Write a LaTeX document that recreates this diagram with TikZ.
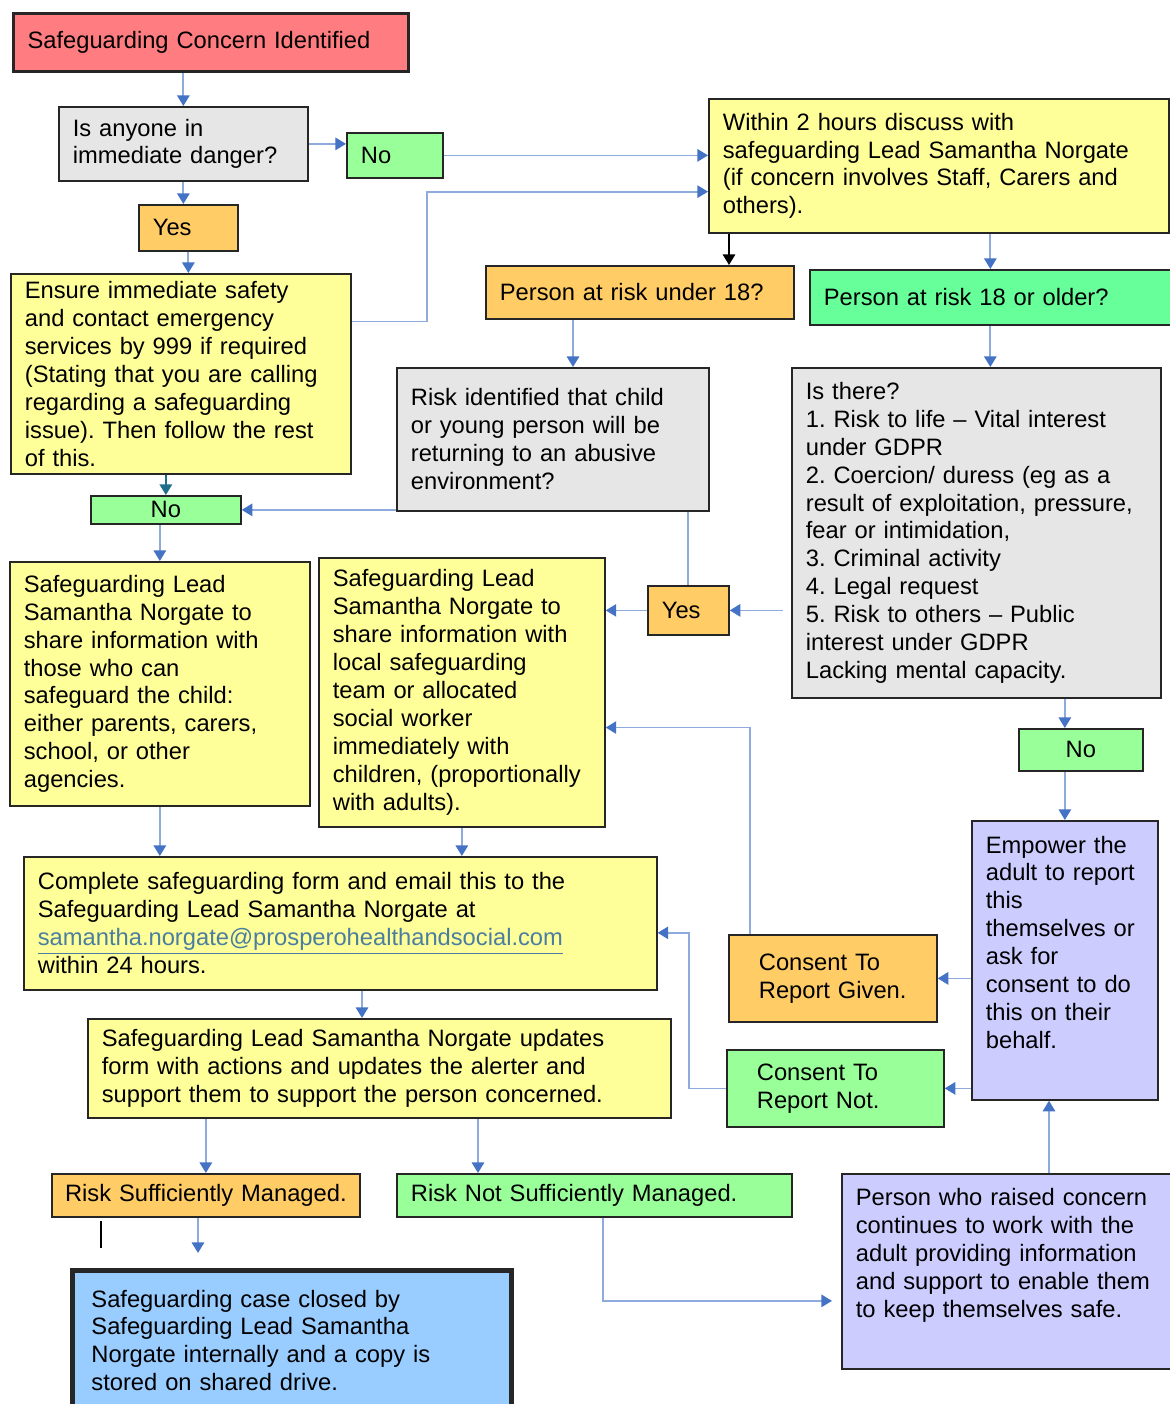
\documentclass[tikz,border=0pt]{standalone}
\usepackage{fontspec}
\setmainfont{Liberation Sans}
\usepackage{xcolor}
\usepackage{tikz}
\usetikzlibrary{positioning,calc,arrows.meta}
\definecolor{alertred}{HTML}{FF7C80}
\definecolor{askgrey}{HTML}{E6E6E6}
\definecolor{nogreen}{HTML}{99FF99}
\definecolor{adultgreen}{HTML}{66FF99}
\definecolor{yesorange}{HTML}{FFCC66}
\definecolor{noteyellow}{HTML}{FFFF99}
\definecolor{empowerlav}{HTML}{CCCCFF}
\definecolor{closedblue}{HTML}{99CCFF}
\definecolor{linkblue}{HTML}{8FAADC}
\definecolor{tipblue}{HTML}{4472C4}
\definecolor{tealline}{HTML}{1F6F8B}
\definecolor{mailblue}{HTML}{4A7EA0}
\frenchspacing

\begin{document}
\begin{tikzpicture}[x=0.02cm, y=-0.02cm,
  box/.style={draw=black!85, line width=1pt, anchor=north west, align=left,
    inner xsep=0.28cm, inner ysep=0.05cm, font=\fontsize{13.5}{15.9}\selectfont},
  link/.style={draw=linkblue, line width=1pt, -{Triangle[length=6pt, width=7pt, color=tipblue]}}]
  \useasboundingbox (0,0) rectangle (1170,1404);

  % Start and first question
  \node[box, fill=alertred, line width=1.8pt, text width=7.34cm, minimum height=1.16cm] (concern) at (12,12) {Safeguarding Concern Identified};
  \node[box, fill=askgrey, text width=4.42cm, minimum height=1.48cm] (danger) at (58,106) {Is anyone in\\immediate danger?};
  \node[box, fill=nogreen, text width=1.36cm, minimum height=0.9cm] (noA) at (346,132) {No};
  \node[box, fill=yesorange, text width=1.42cm, minimum height=0.92cm] (yesA) at (138,204) {Yes};
  \node[box, fill=noteyellow, text width=6.24cm, minimum height=4cm] (ensure) at (10,273) {Ensure immediate safety\\and contact emergency\\services by 999 if required\\(Stating that you are calling\\regarding a safeguarding\\issue). Then follow the rest\\of this.};
  \node[box, fill=noteyellow, text width=8.64cm, minimum height=2.68cm] (within) at (708,98) {Within 2 hours discuss with\\safeguarding Lead Samantha Norgate\\(if concern involves Staff, Carers and\\others).};

  % Age split
  \node[box, fill=yesorange, text width=5.6cm, minimum height=1.06cm] (under18) at (485,265) {Person at risk under 18?};
  \node[box, fill=adultgreen, text width=6.66cm, minimum height=1.1cm] (over18) at (809,269) {Person at risk 18 or older?};
  \node[box, fill=askgrey, text width=5.68cm, minimum height=2.86cm] (abusive) at (396,367) {Risk identified that child\\or young person will be\\returning to an abusive\\environment?};
  \node[box, fill=askgrey, text width=6.82cm, minimum height=6.6cm] (isthere) at (791,367) {Is there?\\1. Risk to life -- Vital interest\\under GDPR\\2. Coercion/ duress (eg as a\\result of exploitation, pressure,\\fear or intimidation,\\3. Criminal activity\\4. Legal request\\5. Risk to others -- Public\\interest under GDPR\\Lacking mental capacity.};

  % Child branch
  \node[box, fill=nogreen, align=center, text width=2.44cm, minimum height=0.56cm, inner ysep=0pt] (noB) at (90,495) {No};
  \node[box, fill=noteyellow, text width=5.44cm, minimum height=4.88cm] (shareC) at (9,561) {Safeguarding Lead\\Samantha Norgate to\\share information with\\those who can\\safeguard the child:\\either parents, carers,\\school, or other\\agencies.};
  \node[box, fill=noteyellow, text width=5.16cm, minimum height=5.38cm] (shareL) at (318,557) {Safeguarding Lead\\Samantha Norgate to\\share information with\\local safeguarding\\team or allocated\\social worker\\immediately with\\children, (proportionally\\with adults).};
  \node[box, fill=yesorange, text width=1.06cm, minimum height=0.98cm] (yesB) at (647,585) {Yes};

  % Adult branch
  \node[box, fill=nogreen, align=center, text width=1.92cm, minimum height=0.84cm] (noC) at (1018,728) {No};
  \node[box, fill=empowerlav, text width=3.16cm, minimum height=5.58cm] (empower) at (971,820) {Empower the\\adult to report\\this\\themselves or\\ask for\\consent to do\\this on their\\behalf.\\ \strut};
  \node[box, fill=yesorange, inner xsep=0.6cm, text width=2.96cm, minimum height=1.74cm] (given) at (728,934) {Consent To\\Report Given.};
  \node[box, fill=nogreen, inner xsep=0.6cm, text width=3.14cm, minimum height=1.54cm] (notgiven) at (726,1049) {Consent To\\Report Not.};
  \node[box, fill=empowerlav, text width=6.24cm, minimum height=3.9cm] (person) at (841,1173) {Person who raised concern\\continues to work with the\\adult providing information\\and support to enable them\\to keep themselves safe.\\ \strut};

  % Reporting and outcome
  \node[box, fill=noteyellow, text width=12.1cm, minimum height=2.66cm] (form) at (23,856) {Complete safeguarding form and email this to the\\Safeguarding Lead Samantha Norgate at\\{\color{mailblue}\underline{samantha.norgate@prosperohealthandsocial.com}}\\within 24 hours.};
  \node[box, fill=noteyellow, text width=11.1cm, minimum height=1.98cm] (updates) at (87,1018) {Safeguarding Lead Samantha Norgate updates\\form with actions and updates the alerter and\\support them to support the person concerned.};
  \node[box, fill=yesorange, align=center, inner xsep=0.1cm, text width=5.96cm, minimum height=0.86cm] (managed) at (51,1173) {Risk Sufficiently Managed.};
  \node[box, fill=nogreen, text width=7.34cm, minimum height=0.86cm] (notmanaged) at (396,1173) {Risk Not Sufficiently Managed.};
  \node[box, fill=closedblue, line width=2.8pt, inner xsep=0.38cm, text width=8.02cm, minimum height=2.8cm] (closed) at (70,1268) {Safeguarding case closed by\\Safeguarding Lead Samantha\\Norgate internally and a copy is\\stored on shared drive.};

  % Start and first question
  \draw[link] (danger.north |- concern.south) -- (danger.north);
  \draw[link] (danger.east) -- (danger.east -| noA.west);
  \draw[link] (danger.south) -- (danger.south |- yesA.north);
  \draw[link] (yesA.south) -- (yesA.south |- ensure.north);
  \draw[link] (noA.east) -- (noA.east -| within.west);
  \coordinate (ensureOut) at ($(ensure.north east)!0.24!(ensure.south east)$);
  \coordinate (withinIn) at ($(within.north west)!0.69!(within.south west)$);
  \draw[link] (ensureOut) -- ++(75,0) |- (withinIn);

  % Age split
  \coordinate (withinLeft) at ($(within.south west)+(21,0)$);
  \draw[line width=1pt, -{Triangle[length=6pt, width=7pt]}] (withinLeft) -- (withinLeft |- under18.north);
  \draw[link] (over18.north |- within.south) -- (over18.north);
  \coordinate (childDown) at ($(under18.south west)+(88,0)$);
  \draw[link] (childDown) -- (childDown |- abusive.north);
  \draw[link] (over18.south) -- (over18.south |- isthere.north);

  % Child branch
  \draw[draw=tealline, line width=1pt, -{Triangle[length=6pt, width=7pt, color=tealline]}] (noB.north |- ensure.south) -- (noB.north);
  \draw[link] (noB.east -| abusive.west) -- (noB.east);
  \draw[link] (shareC.north |- noB.south) -- (shareC.north);
  \draw[draw=linkblue, line width=1pt] (yesB.north |- abusive.south) -- (yesB.north);
  \draw[link] (yesB.west) -- (yesB.west -| shareL.east);
  \draw[link, shorten <=0.16cm] (yesB.east -| isthere.west) -- (yesB.east);

  % Adult branch
  \draw[link] (empower.north |- isthere.south) -- (empower.north |- noC.north);
  \draw[link] (empower.north |- noC.south) -- (empower.north);
  \draw[link] (given.east -| empower.west) -- (given.east);
  \draw[link] (notgiven.east -| empower.west) -- (notgiven.east);
  \coordinate (givenUp) at ($(given.north west)+(22,0)$);
  \coordinate (shareLIn) at ($(shareL.north east)!0.63!(shareL.south east)$);
  \draw[link] (givenUp) |- (shareLIn);
  \coordinate (formIn) at ($(form.north east)!0.57!(form.south east)$);
  \draw[link] (notgiven.west) -- ++(-37,0) |- (formIn);
  \coordinate (personUp) at ($(empower.south west)+(78,0)$);
  \draw[link] (personUp |- person.north) -- (personUp);

  % Reporting and outcome
  \draw[link] (shareC.south) -- (shareC.south |- form.north);
  \draw[link] (shareL.south) -- (shareL.south |- form.north);
  \coordinate (formDown) at ($(form.south west)+(339,0)$);
  \draw[link] (formDown) -- (formDown |- updates.north);
  \draw[link] (managed.north |- updates.south) -- (managed.north);
  \coordinate (notDown) at ($(notmanaged.north west)+(82,0)$);
  \draw[link] (notDown |- updates.south) -- (notDown);
  \coordinate (closeDown) at ($(managed.south west)+(147,0)$);
  \draw[link, shorten >=0.3cm] (closeDown) -- (closeDown |- closed.north);
  \draw[line width=1pt] ($(managed.south west)+(50,3)$) -- ++(0,27);
  \coordinate (notRight) at ($(notmanaged.south west)+(207,0)$);
  \coordinate (personIn) at ($(person.north west)!0.65!(person.south west)$);
  \draw[link, shorten >=0.18cm] (notRight) |- (personIn);
\end{tikzpicture}
\end{document}
